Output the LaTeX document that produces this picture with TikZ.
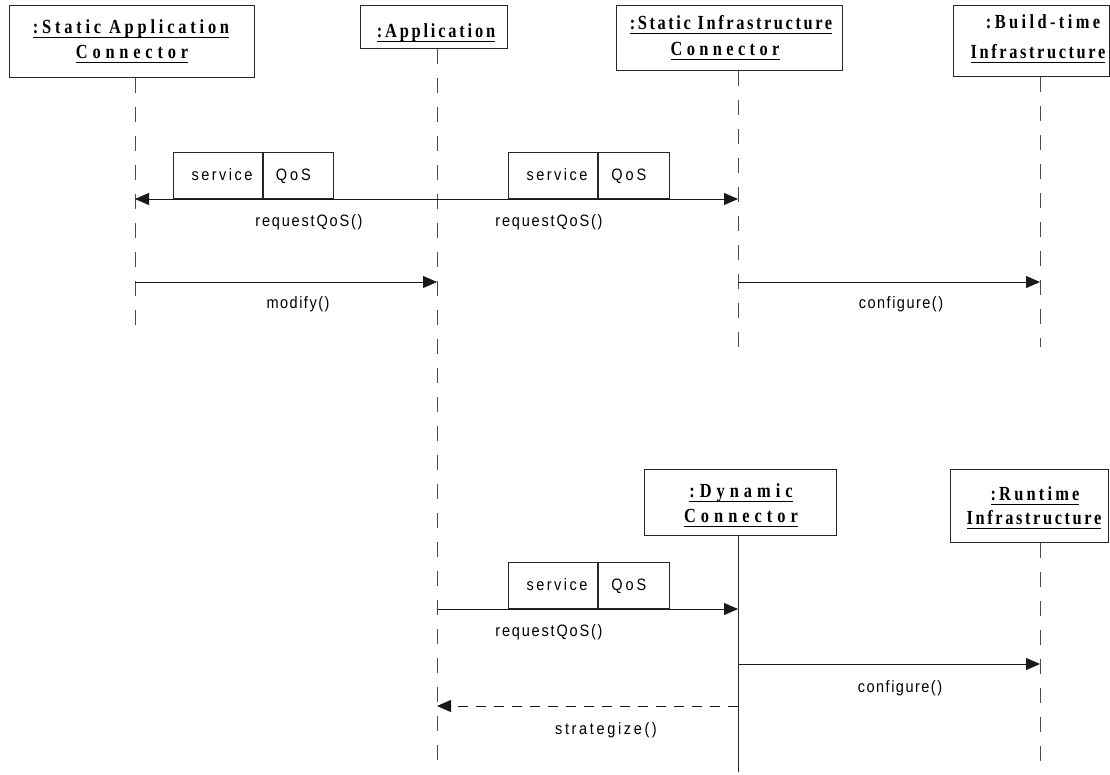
\documentclass[tikz,border=0pt]{standalone}
\usepackage{fontspec}
\setmainfont{Liberation Serif}[FakeStretch=0.82]
\setsansfont{Liberation Sans}[FakeStretch=0.88]
\usetikzlibrary{arrows.meta}
\newcommand\lsp[2]{{\addfontfeature{LetterSpace=#1}#2}}
\newcommand\uln[1]{\leavevmode\setbox0\hbox{#1}\rlap{\rule[-4.5pt]{\wd0}{1pt}}\box0}
\begin{document}
\begin{tikzpicture}[x=1pt,y=-1pt,
  objbox/.style={draw=black!85, line width=1pt, inner sep=0pt, anchor=north west},
  hdr/.style={font=\bfseries\fontsize{20}{26}\selectfont, anchor=base, inner sep=0pt},
  life/.style={line width=0.9pt, draw=black!70, dash pattern=on 15pt off 14pt},
  solidlife/.style={line width=0.9pt, draw=black!85},
  msgl/.style={line width=0.9pt, draw=black!90, -{Triangle[length=14pt,width=12pt]}},
  retl/.style={msgl, dash pattern=on 10pt off 8pt},
  cell/.style={draw=black!85, line width=0.9pt, inner sep=0pt, minimum height=46pt, anchor=south west,
    text height=13pt, text depth=3pt, font=\sffamily\fontsize{16.5}{19}\selectfont},
  lbl/.style={font=\sffamily\fontsize{16.5}{19}\selectfont, anchor=base, inner sep=0pt}]
\useasboundingbox (0,0) rectangle (1110,774);

% object boxes
\node[objbox, minimum width=245pt, minimum height=72pt] (sac) at (9,5) {};
\node[objbox, minimum width=147pt, minimum height=43pt] (app) at (360,5) {};
\node[objbox, minimum width=226pt, minimum height=65pt] (sic) at (616,5) {};
\node[objbox, minimum width=156pt, minimum height=71pt] (bti) at (953,5) {};
\node[objbox, minimum width=192pt, minimum height=66pt] (dc) at (644,469) {};
\node[objbox, minimum width=158pt, minimum height=73pt] (ri) at (950,469) {};

% object titles
\node[hdr] (sacA) at (131,33) {\uln{\lsp{19}{:Static Application}}};
\node[hdr] (sacB) at (132,58) {\uln{\lsp{24}{Connector}}};
\node[hdr] (appA) at (436,37) {\uln{\lsp{14}{:Application}}};
\node[hdr] (sicA) at (731,29) {\uln{\lsp{13}{:Static Infrastructure}}};
\node[hdr] (sicB) at (725,55) {\uln{\lsp{22}{Connector}}};
\node[hdr] (btiA) at (1043,28) {\lsp{17}{:Build-time}};
\node[hdr] (btiB) at (1038,58) {\uln{\lsp{13}{Infrastructure}}};
\node[hdr] (dcA) at (741,497) {\uln{\lsp{25}{:Dynamic}}};
\node[hdr] (dcB) at (741,522) {\uln{\lsp{25}{Connector}}};
\node[hdr] (riA) at (1035,500) {\uln{\lsp{16}{:Runtime}}};
\node[hdr] (riB) at (1034,524) {\uln{\lsp{13}{Infrastructure}}};

% lifeline ends
\coordinate (sacE) at (135,330);
\coordinate (appE) at (437,774);
\coordinate (sicE) at (738,347);
\coordinate (btiE) at (1040,347);
\coordinate (dcE) at (738,772);
\coordinate (riE) at (1040,765);
\draw[life] (sac.south -| sacE) -- (sacE);
\draw[life] (app.south -| appE) -- (appE);
\draw[life] (sic.south -| sicE) -- (sicE);
\draw[life] (bti.south -| btiE) -- (btiE);
\draw[solidlife] (dc.south -| dcE) -- (dcE);
\draw[life] (ri.south -| riE) -- (riE);

% message end points
\coordinate (r1a) at (437,199);
\coordinate (r1b) at (135,199);
\coordinate (r1c) at (738,199);
\coordinate (m1a) at (135,282);
\coordinate (m1b) at (437,282);
\coordinate (c1a) at (738,282);
\coordinate (c1b) at (1040,282);
\coordinate (r2a) at (437,609);
\coordinate (r2b) at (738,609);
\coordinate (c2a) at (738,664);
\coordinate (c2b) at (1040,664);
\coordinate (s2a) at (738,706);
\coordinate (s2b) at (437,706);

% parameter cells
\node[cell, minimum width=89pt] (p1s) at (173,199) {\hspace*{8pt}\lsp{15}{service}};
\node[cell, minimum width=70pt] (p1q) at (p1s.south east) {\lsp{18}{QoS}\hspace*{10pt}};
\node[cell, minimum width=89pt] (p2s) at (508,199) {\hspace*{8pt}\lsp{15}{service}};
\node[cell, minimum width=71pt] (p2q) at (p2s.south east) {\lsp{18}{QoS}\hspace*{10pt}};
\node[cell, minimum width=89pt] (p3s) at (508,609) {\hspace*{8pt}\lsp{15}{service}};
\node[cell, minimum width=71pt] (p3q) at (p3s.south east) {\lsp{18}{QoS}\hspace*{10pt}};

% messages
\draw[msgl] (r1a) -- (r1b);
\draw[msgl] (r1a) -- (r1c);
\draw[msgl] (m1a) -- (m1b);
\draw[msgl] (c1a) -- (c1b);
\draw[msgl] (r2a) -- (r2b);
\draw[msgl] (c2a) -- (c2b);
\draw[retl] (s2a) -- (s2b);

% message labels
\node[lbl] (l1) at (309,226) {\lsp{11}{requestQoS()}};
\node[lbl] (l2) at (549,226) {\lsp{11}{requestQoS()}};
\node[lbl] (l3) at (298,308) {\lsp{9}{modify()}};
\node[lbl] (l4) at (901,308) {\lsp{9}{configure()}};
\node[lbl] (l5) at (549,636) {\lsp{11}{requestQoS()}};
\node[lbl] (l6) at (900,692) {\lsp{9}{configure()}};
\node[lbl] (l7) at (606,734) {\lsp{16}{strategize()}};
\end{tikzpicture}
\end{document}
